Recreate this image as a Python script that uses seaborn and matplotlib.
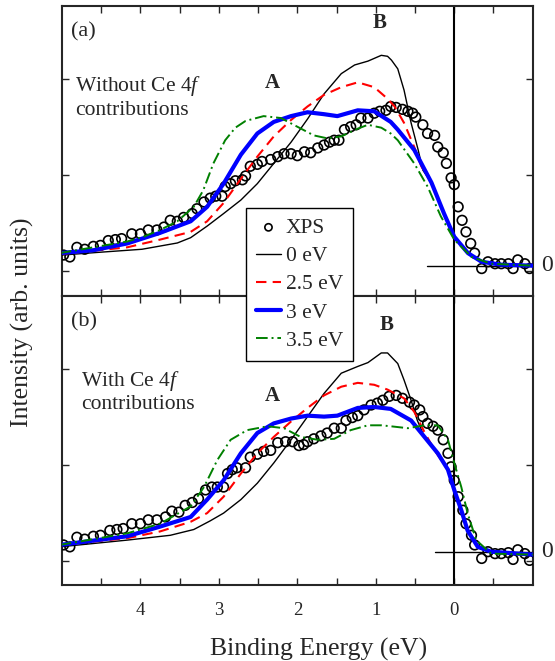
import numpy as np
import matplotlib
matplotlib.use("Agg")
import matplotlib.pyplot as plt
import seaborn as sns
import pandas as pd

# ---- panel (a): without Ce 4f ----
xps_a_x = [4.98, 4.90, 4.81, 4.71, 4.60, 4.51, 4.41, 4.32, 4.24, 4.11, 4.00, 3.90, 3.79, 3.70,
           3.62, 3.53, 3.45, 3.34, 3.28, 3.19, 3.11, 3.04, 2.96, 2.92, 2.85, 2.79, 2.70, 2.66,
           2.60, 2.51, 2.45, 2.34, 2.25, 2.17, 2.08, 2.00, 1.91, 1.83, 1.74, 1.66, 1.59, 1.53,
           1.47, 1.40, 1.32, 1.25, 1.19, 1.10, 1.02, 0.95, 0.87, 0.81, 0.74, 0.66, 0.59, 0.53,
           0.49, 0.40, 0.34, 0.25, 0.21, 0.14, 0.10, 0.04, 0.00, -0.05, -0.10, -0.15, -0.21,
           -0.26, -0.35, -0.43, -0.52, -0.60, -0.69, -0.75, -0.81, -0.90, -0.96]
xps_a_y = [0.11, 0.09, 0.19, 0.17, 0.20, 0.21, 0.26, 0.27, 0.28, 0.33, 0.33, 0.37, 0.37, 0.40,
           0.47, 0.46, 0.50, 0.54, 0.59, 0.66, 0.70, 0.72, 0.72, 0.82, 0.85, 0.88, 0.89, 0.93,
           1.03, 1.05, 1.08, 1.10, 1.13, 1.16, 1.16, 1.14, 1.18, 1.17, 1.22, 1.25, 1.28, 1.30,
           1.30, 1.41, 1.44, 1.46, 1.53, 1.53, 1.58, 1.60, 1.61, 1.65, 1.64, 1.62, 1.60, 1.58,
           1.54, 1.46, 1.37, 1.35, 1.23, 1.17, 1.06, 0.91, 0.84, 0.61, 0.47, 0.35, 0.23,
           0.13, -0.03, 0.04, 0.02, 0.02, 0.02, -0.03, 0.06, 0.02, -0.03]

e0_a_x = [5.0, 4.5, 3.98, 3.53, 3.36, 3.15, 2.94, 2.72, 2.51, 2.30, 2.08, 1.87, 1.66, 1.44,
          1.27, 1.10, 0.93, 0.85, 0.80, 0.72, 0.64, 0.55, 0.46, 0.40, 0.29, 0.13, 0.0, -0.175,
          -0.35, -0.6, -1.0]
e0_a_y = [0.11, 0.14, 0.17, 0.235, 0.29, 0.41, 0.54, 0.68, 0.85, 1.06, 1.28, 1.52, 1.78, 1.99,
          2.08, 2.12, 2.18, 2.17, 2.13, 2.04, 1.82, 1.48, 1.20, 0.99, 0.86, 0.54, 0.30, 0.13,
          0.04, 0.01, 0.0]

e25_a_x = [5.03, 4.17, 3.75, 3.36, 3.15, 2.94, 2.72, 2.51, 2.30, 2.08, 1.87, 1.66, 1.44, 1.23,
           1.02, 0.85, 0.76, 0.64, 0.51, 0.42, 0.29, 0.13, 0.0, -0.175, -0.35, -0.6, -1.0]
e25_a_y = [0.12, 0.19, 0.27, 0.35, 0.46, 0.65, 0.90, 1.13, 1.34, 1.51, 1.65, 1.77, 1.85, 1.90,
           1.85, 1.73, 1.65, 1.48, 1.23, 1.03, 0.86, 0.54, 0.30, 0.13, 0.04, 0.01, 0.0]

e3_a_x = [5.03, 4.6, 4.17, 3.75, 3.36, 3.15, 2.94, 2.72, 2.51, 2.30, 2.08, 1.87, 1.66, 1.49,
          1.23, 1.02, 0.81, 0.72, 0.51, 0.29, 0.13, 0.0, -0.175, -0.35, -0.6, -1.0]
e3_a_y = [0.13, 0.16, 0.23, 0.34, 0.46, 0.61, 0.85, 1.15, 1.37, 1.49, 1.55, 1.59, 1.57, 1.55,
          1.61, 1.60, 1.49, 1.41, 1.20, 0.86, 0.54, 0.30, 0.13, 0.04, 0.01, 0.0]

e35_a_x = [5.03, 4.17, 3.96, 3.75, 3.53, 3.32, 3.20, 3.07, 2.92, 2.79, 2.66, 2.43, 2.21, 2.00,
           1.79, 1.62, 1.44, 1.23, 1.10, 0.93, 0.81, 0.72, 0.51, 0.34, 0.17, 0.0, -0.22, -0.47, -1.0]
e35_a_y = [0.13, 0.25, 0.30, 0.37, 0.46, 0.61, 0.78, 1.06, 1.30, 1.43, 1.50, 1.55, 1.53, 1.44,
           1.35, 1.32, 1.34, 1.42, 1.46, 1.43, 1.37, 1.30, 1.06, 0.82, 0.51, 0.27, 0.09, 0.02, 0.0]

# ---- panel (b): with Ce 4f ----
xps_b_x = [4.98, 4.90, 4.81, 4.71, 4.60, 4.51, 4.39, 4.30, 4.22, 4.11, 4.00, 3.90, 3.79, 3.68,
           3.60, 3.51, 3.43, 3.34, 3.26, 3.17, 3.09, 3.02, 2.94, 2.89, 2.83, 2.77, 2.66, 2.60,
           2.51, 2.43, 2.34, 2.25, 2.15, 2.06, 1.98, 1.92, 1.87, 1.79, 1.70, 1.62, 1.53, 1.44,
           1.38, 1.30, 1.23, 1.15, 1.06, 0.98, 0.91, 0.83, 0.74, 0.66, 0.57, 0.51, 0.44, 0.40,
           0.34, 0.27, 0.21, 0.14, 0.08, 0.04, 0.00, -0.05, -0.11, -0.15, -0.22, -0.26, -0.35,
           -0.43, -0.52, -0.60, -0.69, -0.75, -0.81, -0.90, -0.96]
xps_b_y = [0.07, 0.05, 0.15, 0.13, 0.16, 0.17, 0.22, 0.23, 0.24, 0.29, 0.29, 0.33, 0.33, 0.36,
           0.42, 0.41, 0.48, 0.51, 0.55, 0.64, 0.67, 0.67, 0.67, 0.81, 0.85, 0.87, 0.87, 0.98,
           1.01, 1.04, 1.05, 1.13, 1.14, 1.14, 1.10, 1.11, 1.14, 1.17, 1.20, 1.23, 1.28, 1.28,
           1.36, 1.39, 1.41, 1.47, 1.52, 1.54, 1.57, 1.61, 1.62, 1.59, 1.55, 1.52, 1.47, 1.40,
           1.33, 1.30, 1.26, 1.16, 1.02, 0.88, 0.74, 0.57, 0.43, 0.29, 0.17, 0.07, -0.07,
           0.00, -0.02, -0.02, -0.01, -0.08, 0.02, -0.02, -0.09]

e0_b_x = [5.03, 4.17, 3.62, 3.32, 3.11, 2.94, 2.72, 2.51, 2.30, 2.08, 1.87, 1.66, 1.44, 1.23,
          1.10, 0.93, 0.85, 0.72, 0.64, 0.55, 0.47, 0.38, 0.21, 0.08, 0.0, -0.09, -0.17, -0.30,
          -0.47, -1.0]
e0_b_y = [0.05, 0.12, 0.17, 0.23, 0.32, 0.40, 0.54, 0.71, 0.92, 1.16, 1.40, 1.64, 1.85, 1.92,
          1.96, 2.06, 2.06, 1.95, 1.78, 1.57, 1.36, 1.19, 1.02, 0.85, 0.64, 0.43, 0.22, 0.05,
          0.0, -0.03]

e25_b_x = [5.03, 4.17, 3.75, 3.36, 3.15, 2.94, 2.72, 2.51, 2.30, 2.08, 1.87, 1.66, 1.44, 1.23,
           1.02, 0.85, 0.64, 0.51, 0.38, 0.25, 0.08, 0.0, -0.09, -0.17, -0.30, -0.47, -1.0]
e25_b_y = [0.07, 0.14, 0.21, 0.31, 0.40, 0.57, 0.81, 1.02, 1.19, 1.35, 1.49, 1.62, 1.71, 1.75,
           1.73, 1.68, 1.59, 1.45, 1.24, 1.05, 0.85, 0.64, 0.43, 0.22, 0.05, 0.0, -0.03]

e3_b_x = [5.03, 4.17, 3.75, 3.36, 3.15, 2.94, 2.72, 2.51, 2.30, 2.08, 1.87, 1.66, 1.49, 1.23,
          1.02, 0.81, 0.55, 0.38, 0.21, 0.08, 0.0, -0.09, -0.17, -0.30, -0.47, -1.0]
e3_b_y = [0.07, 0.16, 0.26, 0.36, 0.54, 0.74, 1.02, 1.23, 1.33, 1.38, 1.41, 1.40, 1.41, 1.49,
          1.50, 1.48, 1.36, 1.19, 1.02, 0.85, 0.64, 0.43, 0.22, 0.05, 0.0, -0.03]

e35_b_x = [5.03, 4.17, 3.75, 3.36, 3.19, 3.02, 2.85, 2.64, 2.38, 2.17, 1.96, 1.74, 1.53, 1.32,
           1.10, 0.93, 0.81, 0.59, 0.38, 0.21, 0.08, 0.0, -0.09, -0.17, -0.28, -0.47, -1.0]
e35_b_y = [0.07, 0.19, 0.29, 0.47, 0.67, 0.95, 1.16, 1.26, 1.30, 1.28, 1.19, 1.16, 1.17, 1.26,
           1.31, 1.31, 1.30, 1.28, 1.31, 1.31, 1.16, 0.92, 0.67, 0.40, 0.12, -0.02, -0.03]

sns.set_style("ticks")
plt.rcParams['font.family'] = ['Liberation Serif', 'DejaVu Serif']
plt.rcParams['mathtext.fontset'] = 'custom'
plt.rcParams['mathtext.rm'] = 'Liberation Serif'
plt.rcParams['mathtext.it'] = 'Liberation Serif:italic'
plt.rcParams['xtick.direction'] = 'in'
plt.rcParams['ytick.direction'] = 'in'

fig = plt.figure(figsize=(5.55, 6.61), dpi=100)
ax_a = fig.add_axes([0.1117, 0.5527, 0.8481, 0.4376])
ax_b = fig.add_axes([0.1117, 0.1150, 0.8481, 0.4376])

curve_styles = [
    ("0 eV", "black", "-", 1.0),
    ("2.5 eV", "red", (0, (5, 3)), 1.5),
    ("3 eV", "blue", "-", 3.0),
    ("3.5 eV", "green", (0, (6, 2, 1, 2)), 1.4),
]

panels = [
    (ax_a, xps_a_x, xps_a_y, [(e0_a_x, e0_a_y), (e25_a_x, e25_a_y), (e3_a_x, e3_a_y), (e35_a_x, e35_a_y)],
     (-0.311, 2.687), [-0.06, 0.94, 1.93], 0.35),
    (ax_b, xps_b_x, xps_b_y, [(e0_b_x, e0_b_y), (e25_b_x, e25_b_y), (e3_b_x, e3_b_y), (e35_b_x, e35_b_y)],
     (-0.345, 2.653), [-0.10, 0.90, 1.89], 0.25),
]

for ax, xx, xy, curves, ylim, yt, zstart in panels:
    sns.scatterplot(x=xx, y=xy, ax=ax, marker='o', s=48, facecolor='none',
                    edgecolor='black', linewidth=1.2, label="XPS", zorder=3)
    for (cx, cy), (lab, col, ls, lw) in zip(curves, curve_styles):
        df = pd.DataFrame({"E": cx, "I": cy})
        sns.lineplot(data=df, x="E", y="I", ax=ax, color=col, linestyle=ls, linewidth=lw,
                     sort=False, estimator=None, label=lab, zorder=4)
    ax.axvline(0, color='black', lw=1.5, zorder=2)
    ax.plot([zstart, -1.0], [0, 0], color='black', lw=1.0, zorder=2)
    ax.annotate("0", xy=(1.0, 0), xycoords=('axes fraction', 'data'), xytext=(6, 0),
                textcoords='offset points', ha='left', va='center', fontsize=17)
    ax.set_xlim(5, -1)
    ax.set_ylim(*ylim)
    ax.set_yticks(yt)
    ax.set_yticklabels([])
    ax.set_xticks([4, 3, 2, 1, 0])
    ax.set_xticks(np.arange(-0.5, 5.0, 1.0), minor=True)
    ax.tick_params(which='both', top=True, right=True, width=1.0, length=5)
    ax.tick_params(axis='x', labelsize=13.5, pad=12)
    for s in ax.spines.values():
        s.set_linewidth(1.5)
    ax.set_xlabel("")
    ax.set_ylabel("")
    if ax.get_legend() is not None:
        ax.get_legend().remove()

ax_a.set_xticklabels([])

ax_a.text(4.73, 2.42, "(a)", fontsize=16, ha='center', va='center')
ax_a.text(0.95, 2.51, "B", fontsize=15, fontweight='bold', ha='center', va='center')
ax_a.text(2.32, 1.89, "A", fontsize=15, fontweight='bold', ha='center', va='center')
ax_a.text(4.83, 1.75, "Without Ce 4$f$\ncontributions", fontsize=15.5, ha='left', va='center',
          linespacing=1.2)

ax_b.text(4.72, 2.38, "(b)", fontsize=16, ha='center', va='center')
ax_b.text(0.86, 2.35, "B", fontsize=15, fontweight='bold', ha='center', va='center')
ax_b.text(2.32, 1.61, "A", fontsize=15, fontweight='bold', ha='center', va='center')
ax_b.text(4.76, 1.66, "With Ce 4$f$\ncontributions", fontsize=15.5, ha='left', va='center',
          linespacing=1.2)

handles, labels = ax_a.get_legend_handles_labels()
leg = fig.legend(handles, labels, loc='upper left', bbox_to_anchor=(0.443, 0.685),
                 bbox_transform=fig.transFigure, fontsize=15.5, frameon=True, fancybox=False,
                 edgecolor='black', framealpha=1, handlelength=1.2, handletextpad=0.2,
                 labelspacing=0.38, borderpad=0.45, borderaxespad=0, markerscale=0.75)
leg.get_frame().set_linewidth(1.0)
leg.set_zorder(10)

fig.text(0.041, 0.513, "Intensity (arb. units)", rotation=90, fontsize=18.5,
         ha='center', va='center')
fig.text(0.574, 0.0076, "Binding Energy (eV)", fontsize=18.5, ha='center', va='baseline')

fig.savefig("out.png", dpi=100)
